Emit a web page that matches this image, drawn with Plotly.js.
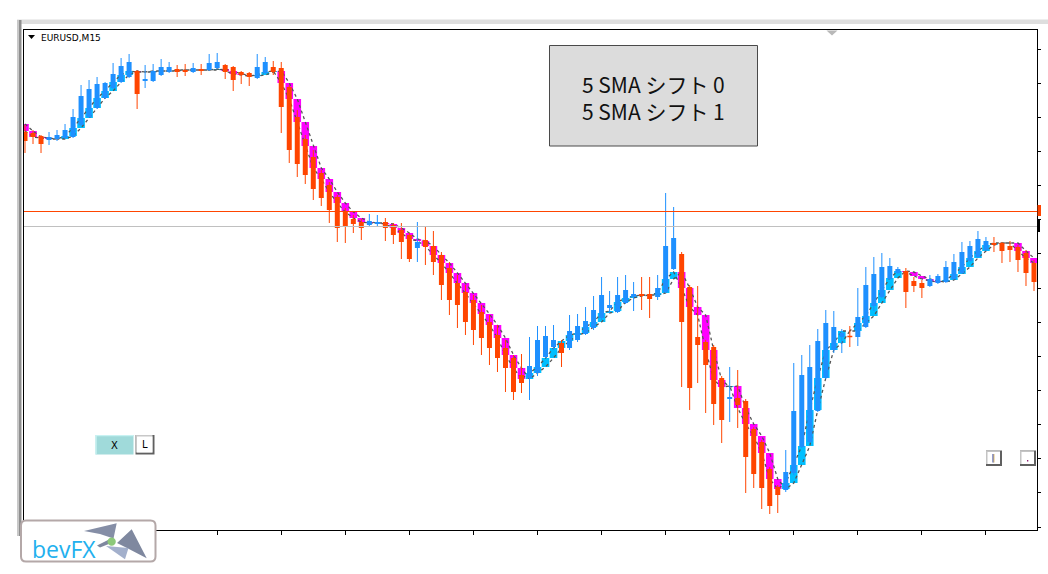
<!DOCTYPE html>
<html><head><meta charset="utf-8">
<script src="https://cdn.plot.ly/plotly-3.0.1.min.js"></script>
<style>html,body{margin:0;padding:0;background:#fff;overflow:hidden}#chart{width:1048px;height:574px}</style>
</head><body><div id="chart"></div>
<script>
const symbolLabel = "EURUSD,M15";
const seriesNames = ["5 SMA シフト 0", "5 SMA シフト 1"];
const logoText = "bevFX";

const open = [1.10398,1.10397,1.10394,1.10390,1.10391,1.10392,1.10393,1.10405,1.10413,1.10422,
1.10432,1.10442,1.10448,1.10453,1.10459,1.10449,1.10449,1.10455,1.10458,1.10461,
1.10460,1.10458,1.10461,1.10460,1.10462,1.10465,1.10463,1.10458,1.10457,1.10452,
1.10457,1.10463,1.10462,1.10443,1.10413,1.10391,1.10373,1.10357,1.10345,1.10333,
1.10318,1.10311,1.10308,1.10305,1.10306,1.10308,1.10305,1.10300,1.10295,1.10282,
1.10290,1.10284,1.10275,1.10262,1.10247,1.10238,1.10230,1.10218,1.10208,1.10195,
1.10182,1.10172,1.10155,1.10152,1.10157,1.10173,1.10183,1.10187,1.10182,1.10190,
1.10196,1.10202,1.10212,1.10222,1.10218,1.10227,1.10233,1.10236,1.10236,1.10233,
1.10238,1.10261,1.10276,1.10243,1.10193,1.10188,1.10183,1.10152,1.10131,1.10132,
1.10129,1.10101,1.10088,1.10061,1.10043,1.10040,1.10057,1.10083,1.10088,1.10119,
1.10152,1.10180,1.10193,1.10194,1.10193,1.10203,1.10224,1.10233,1.10251,1.10257,
1.10259,1.10249,1.10247,1.10244,1.10247,1.10248,1.10251,1.10257,1.10269,1.10273,
1.10280,1.10287,1.10287,1.10284,1.10283,1.10277,1.10267];

const high = [1.10405,1.10400,1.10395,1.10398,1.10400,1.10406,1.10421,1.10445,1.10450,1.10453,
1.10448,1.10467,1.10472,1.10476,1.10460,1.10465,1.10466,1.10471,1.10468,1.10465,
1.10466,1.10467,1.10466,1.10476,1.10477,1.10466,1.10464,1.10459,1.10458,1.10476,
1.10473,1.10469,1.10468,1.10445,1.10420,1.10395,1.10380,1.10360,1.10348,1.10335,
1.10322,1.10315,1.10311,1.10316,1.10315,1.10312,1.10307,1.10307,1.10297,1.10308,
1.10303,1.10299,1.10278,1.10268,1.10255,1.10245,1.10235,1.10225,1.10215,1.10205,
1.10190,1.10175,1.10176,1.10193,1.10204,1.10204,1.10205,1.10190,1.10215,1.10216,
1.10223,1.10234,1.10253,1.10239,1.10253,1.10255,1.10248,1.10253,1.10253,1.10255,
1.10337,1.10323,1.10278,1.10245,1.10244,1.10190,1.10185,1.10154,1.10163,1.10160,
1.10131,1.10103,1.10090,1.10063,1.10045,1.10080,1.10167,1.10175,1.10185,1.10201,
1.10220,1.10219,1.10201,1.10204,1.10242,1.10263,1.10273,1.10277,1.10272,1.10263,
1.10262,1.10253,1.10250,1.10255,1.10256,1.10269,1.10276,1.10288,1.10289,1.10299,
1.10293,1.10293,1.10288,1.10289,1.10285,1.10280,1.10270];

const low = [1.10377,1.10386,1.10377,1.10385,1.10389,1.10391,1.10392,1.10404,1.10412,1.10421,
1.10431,1.10441,1.10447,1.10452,1.10421,1.10442,1.10448,1.10454,1.10457,1.10453,
1.10454,1.10457,1.10455,1.10459,1.10461,1.10451,1.10439,1.10446,1.10444,1.10451,
1.10456,1.10455,1.10397,1.10367,1.10353,1.10346,1.10330,1.10324,1.10307,1.10288,
1.10287,1.10297,1.10290,1.10304,1.10304,1.10289,1.10286,1.10271,1.10268,1.10268,
1.10265,1.10255,1.10230,1.10215,1.10202,1.10195,1.10185,1.10175,1.10165,1.10158,
1.10138,1.10130,1.10137,1.10130,1.10154,1.10172,1.10180,1.10163,1.10180,1.10188,
1.10195,1.10200,1.10210,1.10217,1.10217,1.10226,1.10219,1.10220,1.10212,1.10230,
1.10237,1.10260,1.10143,1.10120,1.10147,1.10117,1.10105,1.10087,1.10108,1.10102,
1.10037,1.10042,1.10021,1.10016,1.10017,1.10038,1.10055,1.10082,1.10087,1.10118,
1.10151,1.10177,1.10177,1.10183,1.10184,1.10202,1.10219,1.10232,1.10250,1.10256,
1.10222,1.10238,1.10232,1.10243,1.10246,1.10247,1.10250,1.10256,1.10268,1.10272,
1.10279,1.10278,1.10267,1.10268,1.10258,1.10244,1.10239];

const close = [1.10389,1.10393,1.10386,1.10393,1.10395,1.10400,1.10413,1.10434,1.10441,1.10446,
1.10447,1.10456,1.10464,1.10468,1.10436,1.10451,1.10459,1.10463,1.10463,1.10458,
1.10458,1.10462,1.10459,1.10467,1.10468,1.10458,1.10450,1.10455,1.10453,1.10463,
1.10468,1.10458,1.10423,1.10380,1.10366,1.10355,1.10341,1.10332,1.10320,1.10302,
1.10304,1.10306,1.10302,1.10309,1.10308,1.10302,1.10295,1.10288,1.10271,1.10288,
1.10283,1.10268,1.10245,1.10230,1.10225,1.10208,1.10200,1.10192,1.10182,1.10172,
1.10162,1.10138,1.10147,1.10164,1.10190,1.10194,1.10190,1.10177,1.10199,1.10204,
1.10209,1.10220,1.10235,1.10225,1.10235,1.10240,1.10236,1.10234,1.10231,1.10242,
1.10284,1.10292,1.10208,1.10142,1.10185,1.10165,1.10126,1.10110,1.10133,1.10125,
1.10073,1.10056,1.10042,1.10024,1.10035,1.10058,1.10119,1.10155,1.10163,1.10189,
1.10207,1.10203,1.10197,1.10193,1.10213,1.10245,1.10256,1.10263,1.10264,1.10261,
1.10238,1.10244,1.10242,1.10251,1.10254,1.10263,1.10268,1.10278,1.10284,1.10291,
1.10289,1.10285,1.10279,1.10280,1.10270,1.10257,1.10248];

// 5 SMA values, starting one bar before the first candle
const smaRead = [1.10406,1.10399,1.10393,1.10392,1.10391,1.10391,1.10394,1.10402,1.10412,1.10422,
1.10432,1.10439,1.10448,1.10455,1.10459,1.10458,1.10458,1.10459,1.10459,1.10459,
1.10460,1.10460,1.10460,1.10460,1.10460,1.10461,1.10459,1.10456,1.10455,1.10454,
1.10455,1.10458,1.10459,1.10447,1.10431,1.10408,1.10384,1.10362,1.10351,1.10338,
1.10327,1.10318,1.10312,1.10308,1.10307,1.10307,1.10306,1.10302,1.10297,1.10291,
1.10289,1.10284,1.10275,1.10267,1.10257,1.10247,1.10237,1.10227,1.10216,1.10205,
1.10192,1.10175,1.10162,1.10151,1.10157,1.10163,1.10172,1.10182,1.10189,1.10195,
1.10197,1.10203,1.10208,1.10217,1.10219,1.10228,1.10232,1.10234,1.10235,1.10235,
1.10237,1.10251,1.10258,1.10242,1.10223,1.10215,1.10180,1.10150,1.10143,1.10144,
1.10122,1.10106,1.10094,1.10077,1.10051,1.10041,1.10047,1.10065,1.10084,1.10120,
1.10152,1.10180,1.10187,1.10199,1.10199,1.10207,1.10214,1.10227,1.10240,1.10252,
1.10259,1.10258,1.10254,1.10251,1.10249,1.10248,1.10250,1.10256,1.10263,1.10272,
1.10279,1.10285,1.10287,1.10287,1.10287,1.10279,1.10272,1.10267];

// horizontal price lines drawn on the chart
const hLines = [1.10319, 1.10304];
const hLineColors = ['#ff4500', '#c0c0c0'];

// ---- geometry of the page (pixels) ----
const PL = 24, PR = 1037, PT = 30, PB = 530;
const px = x => (x - PL) / (PR - PL);
const py = y => (PB - y) / (PB - PT);
const poly = pts => 'M' + pts.map(p => px(p[0]) + ',' + py(p[1])).join('L') + 'Z';
const onePx = 0.00001; // one pixel in price units

const n = open.length;
const xs = open.map((_, i) => i);
const sma0 = smaRead.slice(1, n + 1);
const sma1 = smaRead.slice(0, n);

// boxes between shift 0 and shift 1
const boxDiff = sma0.map((v, i) => v - sma1[i]);
const boxCol = boxDiff.map(d => d < 0 ? '#ff00ff' : '#00bfff');

const traces = [];
traces.push({type: 'bar', x: xs, base: sma1, y: boxDiff, width: 0.95,
  marker: {color: boxCol, line: {width: 0}}, hoverinfo: 'skip', showlegend: false});
traces.push({type: 'scatter', mode: 'lines', name: seriesNames[0], x: xs, y: sma0,
  line: {color: '#555555', width: 1.3, dash: 'dot'}, hoverinfo: 'skip', showlegend: false});
traces.push({type: 'scatter', mode: 'lines', name: seriesNames[1], x: xs, y: sma1,
  line: {color: '#555555', width: 1.3, dash: 'dot'}, hoverinfo: 'skip', showlegend: false});

function candleParts(up) {
  const wx = [], wy = [], bx = [], by = [];
  for (let i = 0; i < n; i++) {
    const isUp = close[i] >= open[i];
    if (isUp !== up) continue;
    wx.push(i, i, null); wy.push(low[i], high[i], null);
    let a = Math.min(open[i], close[i]), b = Math.max(open[i], close[i]);
    if (b - a < 0.000015) { const m = (a + b) / 2; a = m - 0.0000075; b = m + 0.0000075; }
    bx.push(i, i, null); by.push(a, b, null);
  }
  return {wx, wy, bx, by};
}
[[true, '#1e90ff'], [false, '#ff4500']].forEach(([up, col]) => {
  const c = candleParts(up);
  traces.push({type: 'scatter', mode: 'lines', x: c.wx, y: c.wy, line: {color: col, width: 1},
    hoverinfo: 'skip', showlegend: false});
  traces.push({type: 'scatter', mode: 'lines', x: c.bx, y: c.by, line: {color: col, width: 5},
    hoverinfo: 'skip', showlegend: false});
});

const tickIdx = xs.filter(i => i % 8 === 0);

const shapes = [
  // window frame
  {type: 'rect', xref: 'paper', yref: 'paper', x0: px(17), x1: px(1048), y0: py(19.5), y1: py(24), fillcolor: '#dedede', line: {width: 0}, layer: 'below'},
  {type: 'rect', xref: 'paper', yref: 'paper', x0: px(17), x1: px(19), y0: py(20), y1: py(536), fillcolor: '#c8c8c8', line: {width: 0}},
  {type: 'rect', xref: 'paper', yref: 'paper', x0: px(19), x1: px(21.5), y0: py(20), y1: py(536), fillcolor: '#8e8e8e', line: {width: 0}},
  // price labels at the right edge
  {type: 'rect', xref: 'paper', yref: 'y', x0: px(1037.5), x1: px(1041), y0: hLines[0] - 0.00005, y1: hLines[0] + 0.00006, fillcolor: '#ff4500', line: {width: 0}},
  {type: 'rect', xref: 'paper', yref: 'y', x0: px(1037), x1: px(1040), y0: hLines[1] - 0.00006, y1: hLines[1] + 0.00006, fillcolor: '#000000', line: {width: 0}},
  // symbol triangle & shift marker
  {type: 'path', xref: 'paper', yref: 'paper', path: poly([[28, 35], [35, 35], [31.5, 39]]), fillcolor: '#000', line: {width: 0}},
  {type: 'path', xref: 'paper', yref: 'paper', path: poly([[826.5, 30.5], [837.5, 30.5], [832, 35.5]]), fillcolor: '#b8b8b8', line: {width: 0}},
  // legend box
  {type: 'rect', xref: 'paper', yref: 'paper', x0: px(549.5), x1: px(757.5), y0: py(45.5), y1: py(146), fillcolor: '#dcdcdc', line: {color: '#4a4a4a', width: 1}},
  // X button
  {type: 'rect', xref: 'paper', yref: 'paper', x0: px(95.5), x1: px(133.5), y0: py(435), y1: py(454.5), fillcolor: '#a0dada', line: {width: 0}},
  {type: 'path', xref: 'paper', yref: 'paper', path: poly([[95.5, 454.5], [95.5, 435], [133.5, 435], [133.5, 436.2], [96.7, 436.2], [96.7, 454.5]]), fillcolor: '#c8f2f2', line: {width: 0}},
  // L button
  {type: 'rect', xref: 'paper', yref: 'paper', x0: px(135.5), x1: px(154.5), y0: py(435), y1: py(454.5), fillcolor: '#606060', line: {width: 0}},
  {type: 'rect', xref: 'paper', yref: 'paper', x0: px(135.5), x1: px(152.5), y0: py(435), y1: py(452.5), fillcolor: '#c8c8c8', line: {width: 0}},
  {type: 'rect', xref: 'paper', yref: 'paper', x0: px(137), x1: px(152.5), y0: py(436.5), y1: py(452.5), fillcolor: '#ffffff', line: {width: 0}},
  // I button
  {type: 'rect', xref: 'paper', yref: 'paper', x0: px(986), x1: px(1002), y0: py(450.5), y1: py(466), fillcolor: '#606060', line: {width: 0}},
  {type: 'rect', xref: 'paper', yref: 'paper', x0: px(986), x1: px(1000), y0: py(450.5), y1: py(464), fillcolor: '#c4c4c4', line: {width: 0}},
  {type: 'rect', xref: 'paper', yref: 'paper', x0: px(987.5), x1: px(1000), y0: py(452), y1: py(464), fillcolor: '#ffffff', line: {width: 0}},
  {type: 'rect', xref: 'paper', yref: 'paper', x0: px(992.5), x1: px(993.6), y0: py(454), y1: py(462.5), fillcolor: '#2c3c9c', line: {width: 0}},
  {type: 'rect', xref: 'paper', yref: 'paper', x0: px(993.6), x1: px(994.4), y0: py(454), y1: py(462.5), fillcolor: '#d8b050', line: {width: 0}},
  // . button
  {type: 'rect', xref: 'paper', yref: 'paper', x0: px(1020), x1: px(1036), y0: py(450.5), y1: py(466), fillcolor: '#606060', line: {width: 0}},
  {type: 'rect', xref: 'paper', yref: 'paper', x0: px(1020), x1: px(1034), y0: py(450.5), y1: py(464), fillcolor: '#c4c4c4', line: {width: 0}},
  {type: 'rect', xref: 'paper', yref: 'paper', x0: px(1021.5), x1: px(1034), y0: py(452), y1: py(464), fillcolor: '#ffffff', line: {width: 0}},
  {type: 'rect', xref: 'paper', yref: 'paper', x0: px(1027), x1: px(1028.3), y0: py(460), y1: py(461.5), fillcolor: '#902070', line: {width: 0}},
  // logo box
  {type: 'path', xref: 'paper', yref: 'paper', fillcolor: '#ffffff', line: {color: '#b4a8a8', width: 2},
    path: 'M' + px(26) + ',' + py(520.5) + 'L' + px(150.5) + ',' + py(520.5) +
      'Q' + px(155.5) + ',' + py(520.5) + ' ' + px(155.5) + ',' + py(525.5) +
      'L' + px(155.5) + ',' + py(556.5) +
      'Q' + px(155.5) + ',' + py(561.5) + ' ' + px(150.5) + ',' + py(561.5) +
      'L' + px(26) + ',' + py(561.5) +
      'Q' + px(21) + ',' + py(561.5) + ' ' + px(21) + ',' + py(556.5) +
      'L' + px(21) + ',' + py(525.5) +
      'Q' + px(21) + ',' + py(520.5) + ' ' + px(26) + ',' + py(520.5) + 'Z'},
  // bird
  {type: 'path', xref: 'paper', yref: 'paper', path: poly([[84, 531], [116.7, 523.3], [113.5, 538.5], [100, 534]]), fillcolor: '#858ea6', line: {width: 0}},
  {type: 'path', xref: 'paper', yref: 'paper', path: poly([[117, 543], [131.7, 529.3], [146.7, 558.3], [127, 548]]), fillcolor: '#7f889f', line: {width: 0}},
  {type: 'path', xref: 'paper', yref: 'paper', path: poly([[106, 546], [128.5, 548], [125, 559.3]]), fillcolor: '#a3b0cc', line: {width: 0}},
  {type: 'path', xref: 'paper', yref: 'paper', path: poly([[97, 545.5], [108, 540], [110, 543.5], [100, 547.5]]), fillcolor: '#7f889f', line: {width: 0}},
  {type: 'circle', xref: 'paper', yref: 'paper', x0: px(107.5), x1: px(115.8), y0: py(537.6), y1: py(545.8), fillcolor: '#8cc87a', line: {width: 0}}
];
// horizontal price lines as 1px filled strips (crisp)
hLines.forEach((lv, i) => shapes.push({type: 'rect', xref: 'paper', yref: 'y', x0: 0, x1: 1,
  y0: lv - onePx, y1: lv, fillcolor: hLineColors[i], line: {width: 0}}));

const annotations = [
  {xref: 'paper', yref: 'paper', x: px(39), y: py(37.5), xanchor: 'left', yanchor: 'middle', showarrow: false,
    text: symbolLabel, font: {family: 'DejaVu Sans', size: 9, color: '#000'}},
  {xref: 'paper', yref: 'paper', x: px(653.5), y: py(97), xanchor: 'center', yanchor: 'middle', showarrow: false,
    align: 'center', text: seriesNames.join('<br>'), font: {family: 'Noto Sans CJK JP', size: 21, color: '#111'}},
  {xref: 'paper', yref: 'paper', x: px(114.5), y: py(445), xanchor: 'center', yanchor: 'middle', showarrow: false,
    text: 'X', font: {family: 'DejaVu Sans', size: 10, color: '#000'}},
  {xref: 'paper', yref: 'paper', x: px(145), y: py(444.5), xanchor: 'center', yanchor: 'middle', showarrow: false,
    text: 'L', font: {family: 'DejaVu Sans', size: 10, color: '#000'}},
  {xref: 'paper', yref: 'paper', x: px(30), y: py(549), xanchor: 'left', yanchor: 'middle', showarrow: false,
    text: logoText, font: {family: 'Open Sans', size: 23, color: '#22b0ee'}}
];

const layout = {
  width: 1048, height: 574,
  margin: {l: PL, r: 1048 - PR, t: PT, b: 574 - PB, pad: 0},
  paper_bgcolor: '#ffffff', plot_bgcolor: '#ffffff',
  barmode: 'overlay', showlegend: false, hovermode: false,
  xaxis: {range: [-0.125, (PR - PL - 1) / 8 - 0.125], showgrid: false, zeroline: false,
    showline: true, linecolor: '#000', linewidth: 1, mirror: true,
    ticks: 'outside', ticklen: 4, tickcolor: '#000', tickwidth: 1,
    tickmode: 'array', tickvals: tickIdx, showticklabels: false, fixedrange: true},
  yaxis: {range: [1.1, 1.105], side: 'right', showgrid: false, zeroline: false,
    showline: true, linecolor: '#000', linewidth: 1, mirror: true,
    ticks: 'outside', ticklen: 3, tickcolor: '#000', tickwidth: 1,
    tick0: 1.10003, dtick: 0.0003414, showticklabels: false, fixedrange: true},
  shapes: shapes, annotations: annotations
};

Plotly.newPlot('chart', traces, layout, {displayModeBar: false, staticPlot: true});
</script>
</body></html>
